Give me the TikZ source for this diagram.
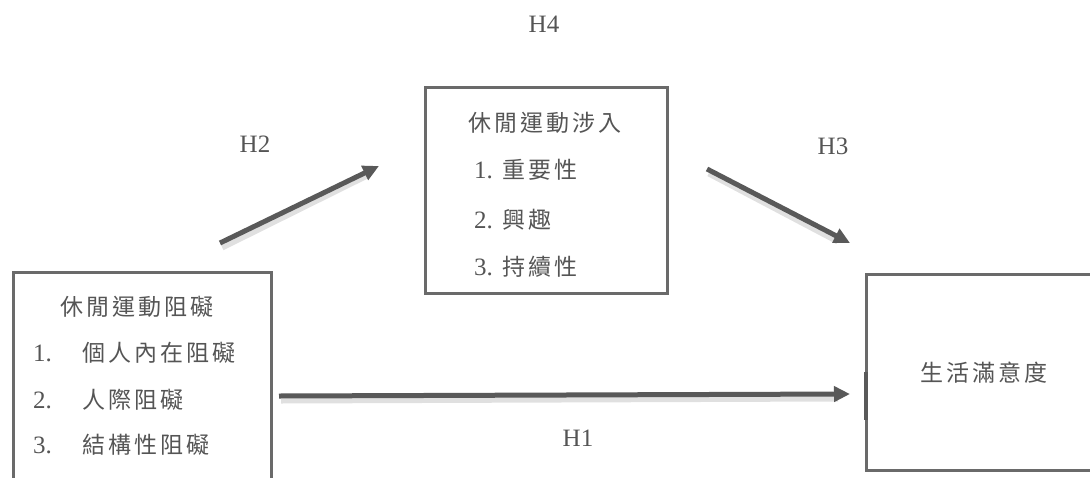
\documentclass[tikz,border=0pt]{standalone}
\usepackage{fontspec}
\setmainfont{Liberation Serif}
\newfontfamily\cjk[LetterSpace=13]{Noto Sans CJK TC}
\usetikzlibrary{arrows.meta}
\definecolor{txt}{HTML}{555555}
\definecolor{bord}{HTML}{6A6A6A}
\definecolor{arr}{HTML}{595959}
\tikzset{
  box/.style={draw=bord, line width=3pt, anchor=north west, inner sep=0pt},
  zh/.style={text=txt, font=\cjk\fontsize{23}{26}\selectfont, inner sep=0pt},
  lat/.style={text=txt, font=\fontsize{25}{28}\selectfont, inner sep=0pt},
  conn/.style={draw=arr, line width=5pt, -{Triangle[length=16pt,width=15pt]}},
  shade/.style={draw=black, opacity=0.12, line width=7pt},
}
\begin{document}
\begin{tikzpicture}[x=1pt,y=-1pt]
\useasboundingbox (0,0) rectangle (1090,477);
\clip (0,0) rectangle (1090,477);
\fill[white] (0,0) rectangle (1090,477);
% boxes
\node[box, minimum width=258pt, minimum height=240pt] (L) at (12,271) {};
\node[box, minimum width=242pt, minimum height=206pt] (M) at (424,86) {};
\node[box, minimum width=245pt, minimum height=196pt] (R) at (865,273) {};
% left texts
\node[zh, anchor=west] (Lt) at (60,307) {休閒運動阻礙};
\node[lat, anchor=west] (L1n) at (33,353) {1.};
\node[zh, anchor=west] (L1) at (82,353) {個人內在阻礙};
\node[lat, anchor=west] (L2n) at (33,400) {2.};
\node[zh, anchor=west] (L2) at (82,400) {人際阻礙};
\node[lat, anchor=west] (L3n) at (33,445) {3.};
\node[zh, anchor=west] (L3) at (82,445) {結構性阻礙};
% middle texts
\node[zh, anchor=west] (Mt) at (468,123) {休閒運動涉入};
\node[lat, anchor=west] (M1n) at (474,170) {1.};
\node[zh, anchor=west] (M1) at (502,170) {重要性};
\node[lat, anchor=west] (M2n) at (474,220) {2.};
\node[zh, anchor=west] (M2) at (502,220) {興趣};
\node[lat, anchor=west] (M3n) at (474,267) {3.};
\node[zh, anchor=west] (M3) at (502,267) {持續性};
% right text
\node[zh, anchor=west] (Rt) at (920,373) {生活滿意度};
% labels
\node[lat] (H4) at (544,24) {H4};
\node[lat] (H2) at (255,144) {H2};
\node[lat] (H3) at (833,146) {H3};
\node[lat] (H1) at (578,438) {H1};
% connector ends
\coordinate (a1) at (279,396);
\coordinate (b1) at (850,394);
\coordinate (a2) at (220,243);
\coordinate (b2) at (379,166);
\coordinate (a3) at (707,169);
\coordinate (b3) at (850,243);
\coordinate (s1) at (866,372);
\coordinate (s2) at (866,420);
% shadows
\draw[shade] ([shift={(2,4)}]a1) -- ([shift={(-12,4)}]b1);
\draw[shade] ([shift={(2,4)}]a2) -- ([shift={(-12,9)}]b2);
\draw[shade] ([shift={(2,4)}]a3) -- ([shift={(-12,-2)}]b3);
% arrows
\draw[conn] (a1) -- (b1);
\draw[conn] (a2) -- (b2);
\draw[conn] (a3) -- (b3);
\draw[draw=arr, line width=4pt] (s1) -- (s2);
\end{tikzpicture}
\end{document}
